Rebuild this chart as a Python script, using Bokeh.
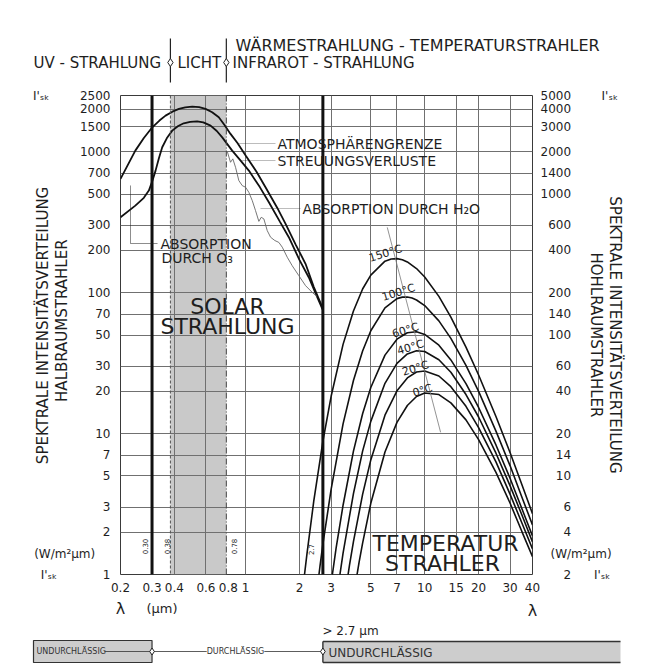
import math
import json
from bokeh.plotting import figure
from bokeh.layouts import column
from bokeh.models import (Range1d, LogScale, LogAxis, FixedTicker, NumeralTickFormatter,
                          CustomJSTickFormatter, Label, BoxAnnotation, PolyAnnotation, Span)
from bokeh.embed import file_html
from bokeh.resources import INLINE

# ---------------- data ----------------
X_TICKS = [0.2, 0.3, 0.4, 0.6, 0.8, 1, 2, 3, 5, 7, 10, 15, 20, 30, 40]
X_GRID = [0.4, 0.6, 1, 2, 3, 5, 7, 10, 15, 20, 30]
Y_TICKS_LEFT = [1, 2, 3, 5, 7, 10, 20, 30, 50, 70, 100, 200, 300, 500, 700, 1000, 1500, 2000, 2500]
Y_TICKS_RIGHT = [2, 4, 6, 10, 14, 20, 40, 60, 100, 140, 200, 400, 600, 1000, 1400, 2000, 3000, 4000, 5000]
Y_GRID = [2, 3, 5, 7, 10, 20, 30, 50, 70, 100, 200, 300, 500, 700, 1000, 1500, 2000]
UNIT_TICK_LEFT = 1.4
UNIT_TICK_RIGHT = 2.8

UV_LIMIT = 0.30
LIGHT_FROM = 0.38
LIGHT_TO = 0.78
IR_LIMIT = 2.7

# Atmosphärengrenze (top solar curve)
SUN_TOP_X = [0.2, 0.242, 0.27, 0.301, 0.33, 0.357, 0.39, 0.424, 0.46, 0.503, 0.55, 0.597, 0.65,
             0.708, 0.76, 0.823, 0.9, 1.0, 1.15, 1.291, 1.5, 1.671, 1.9, 2.16, 2.4, 2.7]
SUN_TOP_Y = [640, 1016, 1250, 1487, 1660, 1800, 1920, 2009, 2060, 2085, 2065, 2009, 1900,
             1750, 1550, 1335, 1150, 937, 720, 558, 400, 307, 220, 160, 110, 77]
# Streuungsverluste (lower solar curve)
SUN_LOW_X = [0.2, 0.242, 0.27, 0.288, 0.3, 0.314, 0.328, 0.342, 0.365, 0.389, 0.42, 0.451, 0.49,
             0.536, 0.58, 0.637, 0.69, 0.74, 0.841, 0.94, 1.042, 1.2, 1.348, 1.55, 1.742, 2.0, 2.254, 2.5, 2.7]
SUN_LOW_Y = [342, 414, 470, 529, 610, 733, 900, 1073, 1260, 1409, 1520, 1588, 1625,
             1641, 1610, 1528, 1400, 1262, 1016, 860, 733, 560, 437, 320, 247, 170, 128, 94, 75]
# Absorption durch H2O
H2O_X = [0.79, 0.823, 0.848, 0.878, 0.916, 0.957, 1.0, 1.042, 1.089, 1.135, 1.185, 1.222, 1.264,
         1.32, 1.378, 1.455, 1.532, 1.601, 1.708, 1.82, 1.98, 2.16, 2.36, 2.5]
H2O_Y = [1000, 840, 888, 774, 623, 574, 558, 514, 449, 382, 320, 342, 333,
         275, 247, 234, 227, 210, 178, 155, 132, 112, 100, 94]

# Temperaturstrahler
T150_X = [2.0, 2.1, 2.2, 2.4, 2.7, 3.0, 3.5, 4.0, 4.5, 5, 6, 6.5, 7, 7.5, 8, 9, 10, 12, 14, 17, 20, 25, 30, 35, 40]
T150_Y = [0.48, 0.85, 1.4, 3.3, 8.8, 18.3, 42.9, 74, 106, 133, 167, 173, 174, 171, 165, 148, 129, 94, 67, 41, 26, 13.2, 7.3, 4.3, 2.7]
T100_X = [2.4, 2.6, 2.7, 3.0, 3.5, 4.0, 4.5, 5, 6, 7, 7.5, 8, 8.5, 9, 10, 12, 14, 17, 20, 25, 30, 35, 40]
T100_Y = [0.5, 1.14, 1.64, 4.0, 11.7, 23.8, 38.5, 53.6, 77.9, 90.6, 92.8, 92.9, 91.4, 88.6, 80.9, 63.0, 47.3, 30.4, 19.9, 10.4, 5.9, 3.5, 2.25]
T60_X = [2.8, 3.0, 3.2, 3.5, 4.0, 4.5, 5, 6, 7, 8, 9, 10, 12, 14, 17, 20, 25, 30, 35, 40]
T60_Y = [0.44, 0.86, 1.54, 3.1, 7.5, 13.8, 21.2, 36.0, 46.7, 51.9, 52.7, 50.5, 42.3, 33.3, 22.6, 15.3, 8.3, 4.8, 2.9, 1.88]
T40_X = [3.0, 3.2, 3.5, 4.0, 4.5, 5, 6, 7, 8, 9, 10, 12, 14, 17, 20, 25, 30, 35, 40]
T40_Y = [0.34, 0.65, 1.42, 3.75, 7.5, 12.2, 22.7, 31.5, 36.7, 38.7, 38.2, 33.4, 27.2, 18.9, 13.1, 7.25, 4.25, 2.62, 1.70]
T20_X = [3.2, 3.5, 3.8, 4.0, 4.5, 5, 6, 7, 8, 9, 10, 12, 14, 17, 20, 25, 30, 35, 40]
T20_Y = [0.24, 0.58, 1.16, 1.71, 3.7, 6.5, 13.5, 20.1, 24.8, 27.3, 27.8, 25.6, 21.5, 15.6, 11.0, 6.3, 3.7, 2.3, 1.52]
T0_X = [3.5, 4.0, 4.3, 4.5, 5, 6, 7, 8, 9, 10, 12, 14, 17, 20, 25, 30, 35, 40]
T0_Y = [0.21, 0.70, 1.22, 1.67, 3.2, 7.4, 12.0, 15.8, 18.3, 19.4, 18.9, 16.5, 12.5, 9.05, 5.3, 3.2, 2.0, 1.34]
TEMP_LABELS = ["150°C", "100°C", "60°C", "40°C", "20°C", "0°C"]

# Wien peak locus (thin line)
WIEN_X = [6.18, 12.27]
WIEN_Y = [290, 10.2]

# ---------------- layout constants ----------------
W = 664
TOP_H, MAIN_H, BOT_H = 86, 514, 68
XL, XR = 120, 532            # frame left/right (page px)
YT, YB = 95, 574             # frame top/bottom (page px)
X0, X1, Y0, Y1 = 0.2, 40.0, 1.0, 2500.0
FONT = "DejaVu Sans"
INK = "#1e1e1e"
FS = "\u2007"   # figure space (digit width)
ISK = "I'\u209b\u2096"


def dx(px):
    return X0 * 10 ** ((px - XL) / (XR - XL) * math.log10(X1 / X0))


def dy(py):
    return Y0 * 10 ** ((YB - py) / (YB - YT) * math.log10(Y1 / Y0))


def no_align(fig):
    try:
        fig.frame_align = False
    except Exception:
        pass


def add_label(fig, x, y, text, size=13, align="left", angle=0.0, color=INK, bg=None):
    l = Label(x=x, y=y, text=text, text_font=FONT, text_font_size=f"{size}px",
              text_align=align, text_baseline="middle", angle=angle, text_color=color)
    if bg is not None:
        l.background_fill_color = bg
        l.background_fill_alpha = 1
    fig.add_layout(l)


# ================= main chart =================
p = figure(width=W, height=MAIN_H, x_axis_type="log", y_axis_type="log",
           x_range=Range1d(X0, X1), y_range=Range1d(Y0, Y1),
           output_backend="svg", toolbar_location=None,
           min_border_left=XL, min_border_right=W - XR,
           min_border_top=YT - TOP_H, min_border_bottom=TOP_H + MAIN_H - YB,
           background_fill_color="white", border_fill_color="white")
p.outline_line_color = "#3a3a3a"
p.outline_line_width = 1
no_align(p)


def style_axis(ax, standoff):
    ax.axis_line_color = None
    ax.major_tick_line_color = None
    ax.minor_tick_line_color = None
    ax.major_tick_out = 0
    ax.minor_tick_out = 0
    ax.major_label_standoff = standoff
    ax.major_label_text_font = FONT
    ax.major_label_text_font_size = "12px"
    ax.major_label_text_color = INK
    ax.axis_label_text_font = FONT
    ax.axis_label_text_font_size = "15px"
    ax.axis_label_text_font_style = "normal"
    ax.axis_label_text_color = INK
    ax.axis_label_text_line_height = 1.05


def js_formatter(mapping, pad_to=0):
    code = ("const L = %s; const k = String(tick); if (k in L) { return L[k]; } "
            "let s = k; while (s.length < %d) { s = '\\u2007' + s; } return s;") % (
        json.dumps(mapping), pad_to)
    return CustomJSTickFormatter(code=code)


left_labels = {
    "2500": ISK + FS * 4 + "2500",
    "1": ISK + FS * 6 + "1",
    str(UNIT_TICK_LEFT): "(W/m²µm)" + FS * 2,
}
right_labels = {
    "5000": "5000" + FS * 4 + ISK,
    "2": FS * 3 + "2" + FS * 3 + ISK,
    str(UNIT_TICK_RIGHT): FS + "\u2009(W/m²µm)",
}

p.xaxis.ticker = FixedTicker(ticks=X_TICKS, minor_ticks=[])
p.xaxis.formatter = NumeralTickFormatter(format="0[.]0")
style_axis(p.xaxis[0], 8)

lax = p.yaxis[0]
lax.ticker = FixedTicker(ticks=Y_TICKS_LEFT + [UNIT_TICK_LEFT], minor_ticks=[])
lax.formatter = js_formatter(left_labels)
style_axis(lax, 10)
lax.axis_label = FS * 2 + "SPEKTRALE INTENSITÄTSVERTEILUNG\n" + FS * 3 + "HALBRAUMSTRAHLER"
lax.axis_label_standoff = -41

p.extra_y_ranges = {"right": Range1d(Y_TICKS_RIGHT[0], Y_TICKS_RIGHT[-1])}
p.extra_y_scales = {"right": LogScale()}
rax = LogAxis(y_range_name="right",
              ticker=FixedTicker(ticks=Y_TICKS_RIGHT + [UNIT_TICK_RIGHT], minor_ticks=[]),
              formatter=js_formatter(right_labels, 4))
style_axis(rax, 8)
rax.axis_label = "SPEKTRALE INTENSITÄTSVERTEILUNG\nHOHLRAUMSTRAHLER"
rax.axis_label_standoff = -34
p.add_layout(rax, "right")

p.xgrid.ticker = FixedTicker(ticks=X_GRID, minor_ticks=[])
p.ygrid.ticker = FixedTicker(ticks=Y_GRID, minor_ticks=[])
for g in (p.xgrid[0], p.ygrid[0]):
    g.grid_line_color = "#707070"
    g.grid_line_width = 1
    g.grid_line_alpha = 1

# visible light band and limits
p.add_layout(BoxAnnotation(left=LIGHT_FROM, right=LIGHT_TO, fill_color="#c9c9c9", fill_alpha=1,
                           line_color=None, level="image"))
p.add_layout(Span(location=LIGHT_FROM, dimension="height", line_color="#555555", line_width=1, line_dash="3 2"))
p.add_layout(Span(location=LIGHT_TO, dimension="height", line_color="#444444", line_width=1, line_dash="6 2 1 2"))
p.add_layout(Span(location=UV_LIMIT, dimension="height", line_color="#111111", line_width=3))
p.add_layout(Span(location=IR_LIMIT, dimension="height", line_color="#111111", line_width=3))

# curves
p.line(SUN_TOP_X, SUN_TOP_Y, line_color="#111111", line_width=1.8)
p.line(SUN_LOW_X, SUN_LOW_Y, line_color="#111111", line_width=1.8)
p.line(H2O_X, H2O_Y, line_color="#666666", line_width=0.9)
for xs, ys in [(T150_X, T150_Y), (T100_X, T100_Y), (T60_X, T60_Y),
               (T40_X, T40_Y), (T20_X, T20_Y), (T0_X, T0_Y)]:
    p.line(xs, ys, line_color="#111111", line_width=1.6)
p.line(WIEN_X, WIEN_Y, line_color="#777777", line_width=0.8)


def mlab(px, py, text, size=13, align="left", angle=0.0):
    add_label(p, dx(px), dy(py), text, size, align, angle)


def mline(pts, width=1.0):
    p.add_layout(PolyAnnotation(xs=[dx(a) for a, b in pts], ys=[dy(b) for a, b in pts],
                                fill_alpha=0, line_color="#222222", line_width=width))


# leader lines
mline([(238, 143), (275, 143)])
mline([(241, 160), (275, 160)])
mline([(260, 208), (300, 208)])
mline([(130, 185), (130, 243), (157, 243), (130, 243)])

# in-plot texts
mlab(277, 143, "ATMOSPHÄRENGRENZE", 14)
mlab(277, 160, "STREUUNGSVERLUSTE", 14)
mlab(302, 208, "ABSORPTION  DURCH H₂O", 14)
mlab(160, 243, "ABSORPTION", 14)
mlab(161, 257, "DURCH O₃", 14)
mlab(227, 306, "SOLAR", 22, "center")
mlab(227, 326, "STRAHLUNG", 22, "center")
mlab(445, 543, "TEMPERATUR", 22, "center")
mlab(442, 563, "STRAHLER", 22, "center")
for (px, py), t in zip([(385, 253), (398, 292), (405, 330), (410, 347), (415, 368), (422, 390)], TEMP_LABELS):
    mlab(px, py, t, 11, "center", 0.3)
for (px, py), t in zip([(144, 546), (166, 546), (233, 546), (310, 549)],
                       ["0.30", "0.38", "0.78", "2.7"]):
    mlab(px, py, t, 7, "center", math.pi / 2)

# ================= top band =================
top = figure(width=W, height=TOP_H, x_axis_type="log",
             x_range=Range1d(dx(0), dx(W)), y_range=Range1d(TOP_H, 0),
             output_backend="svg", toolbar_location=None, min_border=0,
             x_axis_location=None, y_axis_location=None,
             background_fill_color="white", border_fill_color="white")
top.outline_line_color = None
top.xgrid.visible = False
top.ygrid.visible = False
no_align(top)
top.segment(x0=[LIGHT_FROM, LIGHT_TO], y0=[38, 38], x1=[LIGHT_FROM, LIGHT_TO], y1=[82, 82],
            line_color="#222222", line_width=1.2)
top.scatter([LIGHT_FROM, LIGHT_TO], [62, 62], marker="diamond", size=8,
            fill_color="white", line_color="#222222", line_width=1)
add_label(top, dx(235), 45, "WÄRMESTRAHLUNG - TEMPERATURSTRAHLER", 16)
add_label(top, dx(33), 62, "UV - STRAHLUNG", 15)
add_label(top, dx(177), 62, "LICHT", 15)
add_label(top, dx(232), 62, "INFRAROT - STRAHLUNG", 15)

# ================= bottom band =================
bot = figure(width=W, height=BOT_H, x_axis_type="log",
             x_range=Range1d(dx(0), dx(W)), y_range=Range1d(BOT_H, 0),
             output_backend="svg", toolbar_location=None, min_border=0,
             x_axis_location=None, y_axis_location=None,
             background_fill_color="white", border_fill_color="white")
bot.outline_line_color = None
bot.xgrid.visible = False
bot.ygrid.visible = False
no_align(bot)
add_label(bot, dx(120), 8, "λ", 16, "center")
add_label(bot, dx(146), 8, "(µm)", 13)
add_label(bot, dx(532), 10, "λ", 16, "center")
add_label(bot, dx(322), 30, "> 2.7 µm", 12)
# opaque (left) box
bot.quad(left=[dx(33)], right=[UV_LIMIT], top=[40], bottom=[62],
         fill_color="#cdcdcd", line_color="#333333", line_width=1.2)
# transparent window line
bot.segment(x0=[dx(104)], y0=[51], x1=[IR_LIMIT], y1=[51], line_color="#333333", line_width=0.8)
# opaque (right) box
bot.quad(left=[IR_LIMIT], right=[dx(620)], top=[41], bottom=[62],
         fill_color="#cdcdcd", line_color=None)
bot.segment(x0=[IR_LIMIT, IR_LIMIT, IR_LIMIT], y0=[41, 62, 41],
            x1=[dx(620), dx(620), IR_LIMIT], y1=[41, 62, 62],
            line_color="#333333", line_width=1.4)
add_label(bot, dx(36), 51, "UNDURCHLÄSSIG", 8, color="#333333")
add_label(bot, dx(235), 51, "DURCHLÄSSIG", 8, "center", color="#333333", bg="white")
add_label(bot, dx(328), 52, "UNDURCHLÄSSIG", 12, color="#333333")
bot.scatter([UV_LIMIT, IR_LIMIT], [51, 51], marker="diamond", size=7,
            fill_color="white", line_color="#222222", line_width=1)

layout = column(top, p, bot, spacing=0)
open("out.html", "w").write(file_html(layout, INLINE))
